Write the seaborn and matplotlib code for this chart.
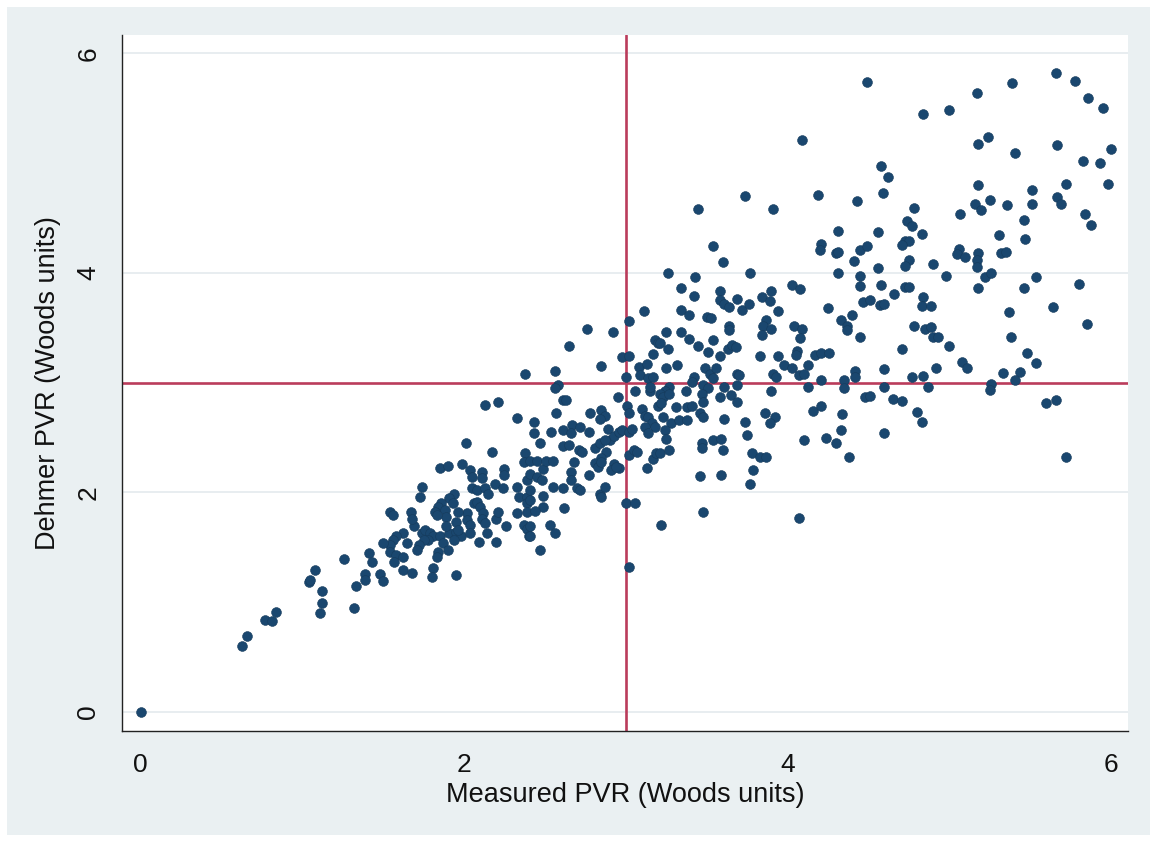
import matplotlib
matplotlib.use("Agg")
import matplotlib.pyplot as plt
from matplotlib.patches import Rectangle
import seaborn as sns
import pandas as pd

# Stata-like look
sns.set_style("white")
plt.rcParams['font.family'] = ['Liberation Sans', 'DejaVu Sans']

# points, grouped by region (measured PVR, Dehmer PVR)
low_pts = [
    (0.00, 0.00), (0.63, 0.60), (0.66, 0.69), (0.77, 0.84), (0.81, 0.83), (0.84, 0.91),
    (1.04, 1.18), (1.05, 1.20), (1.08, 1.29), (1.12, 1.10), (1.12, 0.99), (1.11, 0.90),
    (1.26, 1.39), (1.33, 1.15), (1.32, 0.95), (1.39, 1.26), (1.39, 1.20), (1.41, 1.45),
]

band1_pts = [
    (2.38, 3.08), (2.13, 2.80), (2.21, 2.82), (2.33, 2.68), (2.01, 2.45), (2.17, 2.37), (2.38, 2.36), (2.37, 2.28),
    (1.85, 2.22), (1.90, 2.24), (1.99, 2.26), (2.04, 2.20), (2.05, 2.14), (2.11, 2.19), (2.11, 2.13), (2.25, 2.21),
    (2.25, 2.16), (1.74, 2.05), (1.73, 1.96), (1.54, 1.82), (1.56, 1.79), (1.67, 1.82),
    (2.05, 2.04), (2.08, 2.02), (2.13, 2.04), (2.15, 1.99), (2.19, 2.08), (2.24, 2.04), (2.33, 2.05), (2.34, 1.96),
    (2.39, 2.11), (2.39, 1.96), (2.39, 1.90),
    (1.94, 1.99), (1.91, 1.95), (1.93, 1.90), (1.86, 1.90), (1.84, 1.87), (1.88, 1.84), (1.89, 1.78), (1.82, 1.82),
    (1.83, 1.79), (2.02, 1.81), (2.02, 1.75), (2.04, 1.70), (2.06, 1.90), (2.08, 1.91), (2.10, 1.87), (2.12, 1.81),
    (2.11, 1.76), (2.13, 1.72), (1.96, 1.82), (1.95, 1.73), (2.20, 1.76), (2.21, 1.82), (2.26, 1.69), (2.37, 1.70),
    (2.39, 1.67), (2.40, 1.60), (2.33, 1.81), (2.39, 1.82), (2.14, 1.63), (2.09, 1.55), (2.20, 1.55),
    (1.62, 1.63), (1.58, 1.60), (1.56, 1.57), (1.54, 1.52), (1.50, 1.54), (1.69, 1.69), (1.68, 1.76),
    (1.74, 1.63), (1.76, 1.66), (1.79, 1.63), (1.81, 1.60), (1.78, 1.57), (1.75, 1.57), (1.72, 1.52), (1.71, 1.48),
    (1.85, 1.60), (1.87, 1.54), (1.84, 1.46), (1.83, 1.41), (1.91, 1.63), (1.95, 1.64), (1.98, 1.60),
    (1.54, 1.46), (1.58, 1.43), (1.57, 1.37), (1.62, 1.41), (1.43, 1.37), (1.62, 1.29), (1.68, 1.27), (1.48, 1.26),
    (1.50, 1.19), (1.81, 1.31), (1.80, 1.23), (1.95, 1.25),
    (1.89, 1.69), (1.96, 1.66), (2.04, 1.63), (1.94, 1.57), (1.90, 1.48), (1.65, 1.54),
]

band2_pts = [
    (2.76, 3.49), (2.92, 3.46), (2.65, 3.33), (3.11, 3.65), (3.02, 3.56),
    (3.18, 3.39), (3.20, 3.36), (3.17, 3.26), (2.98, 3.23), (3.02, 3.24), (2.85, 3.15), (2.56, 3.11),
    (3.08, 3.14), (3.13, 3.17), (3.09, 3.07), (3.14, 3.04), (3.17, 3.05), (3.00, 3.05),
    (2.58, 2.98), (2.56, 2.95), (2.61, 2.84), (2.63, 2.84), (2.95, 2.87), (3.06, 2.92), (3.15, 2.92), (3.15, 2.96),
    (3.20, 2.79), (2.57, 2.72), (2.78, 2.72), (2.85, 2.75), (2.87, 2.70), (2.84, 2.67), (3.01, 2.79), (3.02, 2.72),
    (3.10, 2.76), (3.12, 2.70), (3.14, 2.69), (3.16, 2.63), (3.18, 2.60),
    (2.43, 2.64), (2.43, 2.54), (2.54, 2.55), (2.61, 2.57), (2.67, 2.61), (2.72, 2.60), (2.66, 2.54), (2.77, 2.55),
    (2.89, 2.58), (2.90, 2.48), (2.93, 2.51), (2.96, 2.55), (2.98, 2.57), (3.02, 2.55), (3.04, 2.58), (3.12, 2.60),
    (3.14, 2.54), (2.47, 2.45), (2.61, 2.42), (2.65, 2.43), (2.71, 2.39), (2.73, 2.37), (2.81, 2.40), (2.84, 2.45),
    (2.87, 2.48), (2.88, 2.37), (2.85, 2.31), (2.81, 2.27), (2.83, 2.23), (2.85, 2.28), (2.93, 2.26), (2.96, 2.22),
    (2.91, 2.20), (2.94, 2.23), (3.02, 2.34), (3.05, 2.39), (3.07, 2.37), (3.13, 2.22), (3.17, 2.30), (3.19, 2.36),
    (2.41, 2.29), (2.45, 2.29), (2.49, 2.21), (2.51, 2.29), (2.55, 2.29), (2.41, 2.17), (2.45, 2.14), (2.48, 2.11),
    (2.68, 2.28), (2.66, 2.19), (2.66, 2.11), (2.77, 2.16), (2.55, 2.05), (2.61, 2.04), (2.70, 2.04), (2.72, 2.02),
    (2.84, 1.99), (2.87, 2.05), (2.85, 1.96), (2.41, 2.02), (2.41, 1.93), (2.49, 1.97), (2.49, 1.87), (2.44, 1.83),
    (2.62, 1.86), (3.00, 1.90), (3.06, 1.90), (2.41, 1.69), (2.41, 1.60), (2.53, 1.70), (2.56, 1.63), (2.47, 1.48),
    (3.02, 1.32),
]

band3_pts = [
    (3.60, 4.10), (3.26, 4.00), (3.43, 3.96), (3.77, 4.00), (3.34, 3.86), (3.42, 3.79),
    (3.58, 3.83), (3.58, 3.75), (3.61, 3.72), (3.64, 3.69), (3.69, 3.76), (3.72, 3.66), (3.76, 3.72),
    (3.84, 3.78), (3.89, 3.74), (3.90, 3.83), (3.94, 3.65),
    (3.34, 3.66), (3.39, 3.62), (3.50, 3.60), (3.53, 3.59), (3.64, 3.52), (3.64, 3.48),
    (3.87, 3.57), (3.85, 3.52), (3.90, 3.49), (3.84, 3.43),
    (3.25, 3.46), (3.34, 3.46), (3.39, 3.40), (3.21, 3.36), (3.26, 3.31), (3.45, 3.33), (3.51, 3.28), (3.54, 3.39),
    (3.58, 3.24), (3.63, 3.31), (3.66, 3.34), (3.68, 3.32), (3.83, 3.24), (3.94, 3.24), (3.98, 3.16),
    (3.25, 3.13), (3.32, 3.16), (3.42, 3.05), (3.41, 3.01), (3.49, 3.13), (3.52, 3.08), (3.54, 3.04), (3.56, 3.13),
    (3.48, 2.98), (3.51, 2.95), (3.69, 3.08), (3.70, 3.07), (3.69, 2.98), (3.91, 3.08), (3.93, 3.05), (3.90, 2.92),
    (3.27, 2.96), (3.24, 2.92), (3.21, 2.90), (3.23, 2.87), (3.22, 2.81), (3.27, 2.90),
    (3.37, 2.92), (3.31, 2.78), (3.38, 2.78), (3.41, 2.79), (3.47, 2.90), (3.48, 2.82), (3.61, 2.96), (3.65, 2.89),
    (3.69, 2.82), (3.58, 2.87), (3.46, 2.72), (3.48, 2.69), (3.61, 2.67), (3.74, 2.64), (3.86, 2.72), (3.92, 2.69),
    (3.89, 2.63), (3.23, 2.69), (3.28, 2.63), (3.33, 2.66), (3.38, 2.66), (3.24, 2.57), (3.25, 2.49), (3.21, 2.36),
    (3.27, 2.39), (3.47, 2.45), (3.47, 2.40), (3.54, 2.48), (3.59, 2.49), (3.60, 2.39), (3.75, 2.52), (3.78, 2.36),
    (3.83, 2.32), (3.87, 2.32), (3.79, 2.20), (3.77, 2.08), (3.46, 2.15), (3.59, 2.16),
    (3.22, 1.70), (3.48, 1.82), (4.07, 1.77),
    (3.54, 4.24), (3.45, 4.58), (3.74, 4.70), (3.91, 4.58),
]

band4_pts = [
    (4.43, 4.65), (4.31, 4.38), (4.56, 4.37), (4.21, 4.26), (4.20, 4.21), (4.30, 4.18), (4.31, 4.19), (4.41, 4.11),
    (4.45, 4.21), (4.49, 4.24), (4.56, 4.04), (4.31, 4.00), (4.45, 3.97), (4.45, 3.88), (4.58, 3.89), (4.03, 3.89),
    (4.08, 3.85), (4.66, 3.81), (4.47, 3.73), (4.51, 3.75), (4.57, 3.71), (4.60, 3.72), (4.25, 3.68), (4.40, 3.62),
    (4.33, 3.57), (4.37, 3.52), (4.37, 3.48), (4.45, 3.42), (4.04, 3.52), (4.09, 3.49), (4.08, 3.41), (4.06, 3.29),
    (4.05, 3.25), (4.17, 3.25), (4.21, 3.27), (4.26, 3.27), (4.13, 3.16), (4.07, 3.07), (4.10, 3.08), (4.03, 3.13),
    (4.21, 3.02), (4.42, 3.11), (4.42, 3.05), (4.35, 3.02), (4.35, 2.95), (4.60, 3.12), (4.60, 2.96), (4.13, 2.96),
    (4.48, 2.87), (4.51, 2.88), (4.65, 2.85), (4.16, 2.74), (4.21, 2.79), (4.34, 2.71), (4.33, 2.57), (4.24, 2.50),
    (4.30, 2.45), (4.10, 2.48), (4.60, 2.54), (4.38, 2.32),
    (4.49, 5.74), (4.09, 5.21), (4.58, 4.97), (4.62, 4.87), (4.59, 4.73), (4.19, 4.71),
]

band5_pts = [
    (4.84, 5.45), (5.00, 5.48), (5.17, 5.64), (5.18, 5.17), (5.24, 5.24), (5.18, 4.80), (5.16, 4.63), (5.20, 4.57),
    (5.25, 4.66), (5.07, 4.54), (4.78, 4.59), (4.74, 4.47), (4.77, 4.43), (4.83, 4.35), (4.73, 4.29), (4.75, 4.29),
    (4.71, 4.25), (5.06, 4.22), (5.05, 4.17), (5.10, 4.14), (5.18, 4.18), (5.17, 4.12), (5.17, 4.05), (5.22, 3.96),
    (5.26, 4.00), (4.90, 4.08), (4.75, 4.12), (4.73, 4.06), (4.98, 3.97), (4.73, 3.87), (4.75, 3.87), (5.18, 3.86),
    (4.84, 3.78), (4.83, 3.70), (4.89, 3.70), (4.78, 3.52), (4.85, 3.49), (4.89, 3.51), (4.90, 3.42), (4.93, 3.42),
    (4.71, 3.31), (5.00, 3.33), (5.08, 3.19), (5.11, 3.13), (4.92, 3.13), (4.77, 3.05), (4.84, 3.06), (4.87, 2.96),
    (5.26, 2.99), (5.25, 2.93), (4.71, 2.83), (4.80, 2.73), (4.83, 2.64),
]

band6_pts = [
    (5.39, 5.73), (5.66, 5.82), (5.78, 5.75), (5.86, 5.59), (5.95, 5.50), (5.41, 5.09), (5.67, 5.16), (6.00, 5.13),
    (5.83, 5.02), (5.93, 5.00), (5.72, 4.81), (5.98, 4.81), (5.51, 4.75), (5.51, 4.63), (5.67, 4.69), (5.69, 4.63),
    (5.36, 4.62), (5.84, 4.54), (5.88, 4.44), (5.46, 4.48), (5.47, 4.31), (5.31, 4.34), (5.32, 4.18), (5.35, 4.19),
    (5.54, 3.96), (5.46, 3.86), (5.80, 3.90), (5.64, 3.69), (5.37, 3.64), (5.85, 3.53), (5.38, 3.42), (5.48, 3.27),
    (5.54, 3.18), (5.33, 3.09), (5.44, 3.10), (5.41, 3.02), (5.60, 2.81), (5.66, 2.84), (5.72, 2.32),
]

x_ticks = [0, 2, 4, 6]
y_ticks = [0, 2, 4, 6]
cut_x = 3
cut_y = 3

all_pts = low_pts + band1_pts + band2_pts + band3_pts + band4_pts + band5_pts + band6_pts
df = pd.DataFrame(all_pts, columns=['measured', 'dehmer'])

fig = plt.figure(figsize=(11.57, 8.42), dpi=100, facecolor='white')
# bluish-grey graph region with a thin white frame
fig.patches.append(Rectangle((7 / 1157, 7 / 842), 1143 / 1157, 828 / 842,
                             transform=fig.transFigure, facecolor='#EAF0F2',
                             edgecolor='none', zorder=-1))

ax = fig.add_axes([122 / 1157, 1 - 731 / 842, 1006 / 1157, 696 / 842])
ax.set_facecolor('white')

ax.axvline(cut_x, color='#BA3C5B', lw=1.9, zorder=1)
ax.axhline(cut_y, color='#BA3C5B', lw=1.9, zorder=1)

sns.scatterplot(data=df, x='measured', y='dehmer', ax=ax, s=50,
                color='#1A476F', edgecolor='#163b5c', linewidth=0.4, zorder=3)

ax.set_xlim(-0.115, 6.106)
ax.set_ylim(-0.173, 6.166)
ax.set_xticks(x_ticks)
ax.set_yticks(y_ticks)

# horizontal grid only, like Stata
for yv in y_ticks:
    ax.axhline(yv, color='#E6ECEF', lw=1.3, zorder=0)

for side in ['top', 'right']:
    ax.spines[side].set_visible(False)
for side in ['left', 'bottom']:
    ax.spines[side].set_color('#222222')
    ax.spines[side].set_linewidth(1.0)

ax.tick_params(axis='both', direction='out', length=7.5, width=1.0, color='#222222',
               labelsize=19, labelcolor='#111111', pad=8)
ax.tick_params(axis='y', labelrotation=90)
for lab in ax.get_yticklabels():
    lab.set_va('center')

ax.set_xlabel('Measured PVR (Woods units)', fontsize=19.5, color='#111111')
ax.set_ylabel('Dehmer PVR (Woods units)', fontsize=19.5, color='#111111')
ax.xaxis.label.set_va('center')
ax.yaxis.label.set_va('center')
ax.xaxis.set_label_coords(0.5, -64 / 696)
ax.yaxis.set_label_coords(-74 / 1006, 0.5)

fig.savefig('out.png', dpi=100, facecolor=fig.get_facecolor())
